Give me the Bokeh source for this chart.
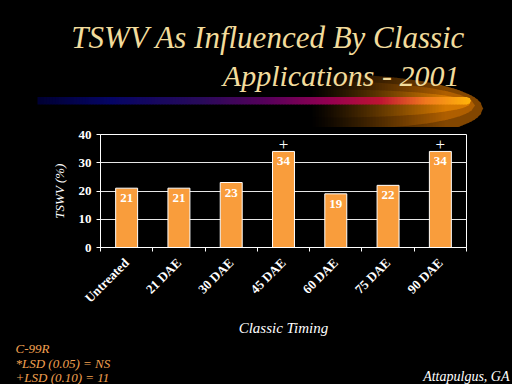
import math
from bokeh.plotting import figure
from bokeh.layouts import column
from bokeh.models import FixedTicker, ColumnDataSource, Range1d
from bokeh.core.properties import value
from bokeh.embed import file_html
from bokeh.resources import INLINE

# ---- data ----
categories = ["Untreated", "21 DAE", "30 DAE", "45 DAE", "60 DAE", "75 DAE", "90 DAE"]
tswv = [21, 21, 23, 34, 19, 22, 34]
lsd10_sig = [False, False, False, True, False, False, True]
y_ticks = [0, 10, 20, 30, 40]

title_lines = ["TSWV As Influenced By Classic", "Applications - 2001"]
y_label = "TSWV (%)"
x_label = "Classic Timing"
notes = ["C-99R", "*LSD (0.05) = NS", "+LSD (0.10)  =  11"]
location = "Attapulgus, GA"

SERIF = "Liberation Serif"
W, H = 512, 384
TOP_H = 127          # height of the title strip
BOT_Y = 338          # where the notes strip starts
FL, FR, FT, FB = 100, 466, 134, 248  # chart frame edges in page px


def blank_fig(h, y0):
    f = figure(width=W, height=h, output_backend="svg", toolbar_location=None,
               x_range=Range1d(0, W), y_range=Range1d(y0 + h, y0),
               min_border=0, min_border_left=0, min_border_right=0,
               min_border_top=0, min_border_bottom=0, frame_align=False)
    f.axis.visible = False
    f.grid.visible = False
    f.outline_line_color = None
    f.background_fill_color = "black"
    f.border_fill_color = "black"
    return f


def mix(c1, c2, t):
    return tuple(int(round(a + (b - a) * t)) for a, b in zip(c1, c2))


def hexc(c):
    return "#%02x%02x%02x" % c


# ================= title strip =================
top = blank_fig(TOP_H, 0)


def fade_color(base, cx, x0=310, x1=445):
    t = min(max((cx - x0) / (x1 - x0), 0.0), 1.0) ** 1.2
    return hexc(mix((0, 0, 0), base, t))


bands = [  # (center_x, center_y, rx, ry, color)
    (330, 108, 152, 34, (130, 70, 0)),
    (330, 105, 144, 24, (175, 95, 0)),
    (330, 103, 139, 14, (215, 122, 0)),
]
pxs, pys, pcols = [], [], []
step = 3
for (ecx, ecy, rx, ry, base) in bands:
    x = 300
    while x < ecx + rx:
        xa_, xb_ = x, min(x + step, ecx + rx)
        hs = []
        for xx in (xa_, xb_):
            if xx <= ecx:
                hs.append(ry)
            else:
                u = (xx - ecx) / rx
                hs.append(ry * math.sqrt(max(0.0, 1 - u * u)))
        pxs.append([xa_, xb_ + 0.6, xb_ + 0.6, xa_])
        pys.append([ecy - hs[0], ecy - hs[1], ecy + hs[1], ecy + hs[0]])
        pcols.append(fade_color(base, (xa_ + xb_) / 2))
        x += step

stops = [(37, (0, 0, 50)), (110, (5, 5, 100)), (200, (40, 10, 90)), (270, (90, 0, 90)),
         (330, (150, 0, 80)), (380, (190, 20, 50)), (425, (240, 120, 30)),
         (470, (255, 180, 10))]


def grad(xx):
    for (a, ca), (b, cb) in zip(stops[:-1], stops[1:]):
        if xx <= b:
            return hexc(mix(ca, cb, (xx - a) / (b - a)))
    return hexc(stops[-1][1])


ly0, ly1 = 96.5, 104
x = 37
while x < 470:
    xb_ = min(x + 3, 470)
    ts, bs = [], []
    for xx in (x, xb_):
        d = 0.0
        if xx > 466:
            u = (xx - 466) / 4.0
            d = 3.7 * (1 - math.sqrt(max(0.0, 1 - u * u)))
        ts.append(ly0 + d)
        bs.append(ly1 - d)
    pxs.append([x, xb_ + 0.6, xb_ + 0.6, x])
    pys.append([ts[0], ts[1], bs[1], bs[0]])
    pcols.append(grad((x + xb_) / 2))
    x = xb_

top.patches(xs=pxs, ys=pys, fill_color=pcols, line_color=None)

title_col = "#F2DC9C"
top.text(x=[465], y=[37], text=[title_lines[0]], text_align="right",
         text_baseline="alphabetic", text_font=value(SERIF), text_font_style="italic",
         text_font_size="31px", text_color=title_col)
top.text(x=[459], y=[75], text=[title_lines[1]], text_align="right",
         text_baseline="alphabetic", text_font=value(SERIF), text_font_style="italic",
         text_font_size="30px", text_color=title_col)

# ================= chart =================
CH_H = BOT_Y - TOP_H
xs = [i + 0.5 for i in range(len(categories))]
src = ColumnDataSource(dict(x=xs, top=tswv, lab=[str(v) for v in tswv]))
plus_src = ColumnDataSource(dict(
    x=[x for x, s in zip(xs, lsd10_sig) if s],
    y=[v for v, s in zip(tswv, lsd10_sig) if s],
    t=["+" for s in lsd10_sig if s],
))

p = figure(width=W, height=CH_H, output_backend="svg", toolbar_location=None,
           x_range=Range1d(0, len(categories)), y_range=Range1d(0, 40),
           min_border_left=FL, min_border_right=W - FR,
           min_border_top=FT - TOP_H, min_border_bottom=BOT_Y - FB, frame_align=False)
p.background_fill_color = "black"
p.border_fill_color = "black"
p.outline_line_color = "white"
p.outline_line_width = 1

p.vbar(x="x", top="top", width=0.42, bottom=0, source=src,
       fill_color="#F99D3C", line_color="white", line_width=1)
p.text(x="x", y="top", text="lab", source=src, text_align="center",
       text_baseline="top", y_offset=6, text_color="white",
       text_font=value(SERIF), text_font_style="bold", text_font_size="13px")
p.text(x="x", y="y", text="t", source=plus_src, text_align="center",
       text_baseline="middle", y_offset=-7, text_color="white",
       text_font=value(SERIF), text_font_size="17px")

xa = p.xaxis[0]
xa.ticker = FixedTicker(ticks=xs, minor_ticks=list(range(len(categories) + 1)))
xa.major_label_overrides = {x: c for x, c in zip(xs, categories)}
xa.major_label_orientation = math.pi / 4
xa.major_tick_out = 0
xa.major_tick_in = 0
xa.minor_tick_out = 4
xa.minor_tick_in = 0
xa.minor_tick_line_color = "white"
xa.axis_line_color = "white"
xa.major_label_text_color = "white"
xa.major_label_text_font = SERIF
xa.major_label_text_font_style = "bold"
xa.major_label_text_font_size = "13px"
xa.major_label_standoff = 9
xa.axis_label = x_label
xa.axis_label_text_color = "white"
xa.axis_label_text_font = SERIF
xa.axis_label_text_font_style = "italic"
xa.axis_label_text_font_size = "15px"
xa.axis_label_standoff = 6

ya = p.yaxis[0]
ya.ticker = FixedTicker(ticks=y_ticks)
ya.axis_line_color = "white"
ya.major_tick_line_color = "white"
ya.major_tick_out = 4
ya.major_tick_in = 0
ya.minor_tick_line_color = None
ya.major_label_text_color = "white"
ya.major_label_text_font = SERIF
ya.major_label_text_font_style = "bold"
ya.major_label_text_font_size = "13px"
ya.major_label_standoff = 5
ya.axis_label = y_label
ya.axis_label_text_color = "white"
ya.axis_label_text_font = SERIF
ya.axis_label_text_font_style = "italic"
ya.axis_label_text_font_size = "13px"
ya.axis_label_standoff = 9

p.xgrid.grid_line_color = None
p.ygrid.grid_line_color = "white"
p.ygrid.grid_line_alpha = 0.9

# ================= notes strip =================
bot = blank_fig(H - BOT_Y, BOT_Y)
bot.text(x=[15] * len(notes), y=[348 + 14.5 * i for i in range(len(notes))], text=notes,
         text_align="left", text_baseline="alphabetic", text_font=value(SERIF),
         text_font_style="italic", text_font_size="13px", text_color="#F2A050")
bot.text(x=[509], y=[376], text=[location], text_align="right", text_baseline="alphabetic",
         text_font=value(SERIF), text_font_style="italic", text_font_size="14px",
         text_color="white")

layout = column(top, p, bot, spacing=0)
html = file_html(layout, INLINE)
html = html.replace("</head>", "<style>html, body { background: #000; margin: 0; }</style></head>", 1)
open("out.html", "w").write(html)
